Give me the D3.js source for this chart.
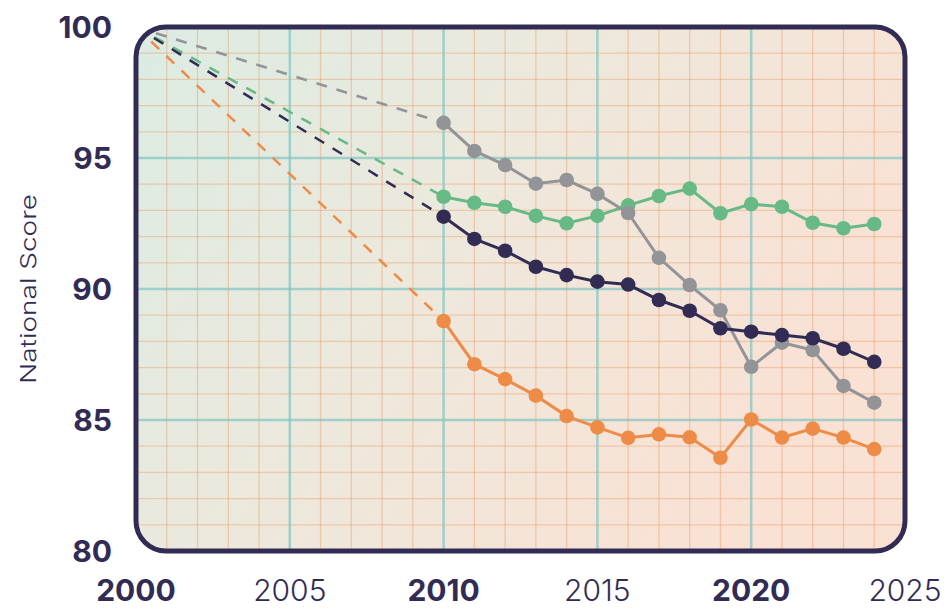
<!DOCTYPE html>
<html>
<head>
<meta charset="utf-8">
<script src="https://cdn.jsdelivr.net/npm/d3@7"></script>
<style>
  body { margin: 0; background: #fff; }
  svg { display: block; }
</style>
</head>
<body>
<div id="chart"></div>
<script>
var years = [2010, 2011, 2012, 2013, 2014, 2015, 2016, 2017, 2018, 2019, 2020, 2021, 2022, 2023, 2024];
var greenVals = [93.52, 93.29, 93.14, 92.79, 92.51, 92.79, 93.19, 93.55, 93.83, 92.89, 93.24, 93.14, 92.53, 92.32, 92.48];
var grayVals = [96.34, 95.27, 94.73, 94.02, 94.16, 93.63, 92.9, 91.19, 90.15, 89.19, 87.03, 87.95, 87.67, 86.3, 85.66];
var navyVals = [92.76, 91.91, 91.46, 90.85, 90.53, 90.28, 90.17, 89.58, 89.17, 88.5, 88.37, 88.24, 88.12, 87.72, 87.22];
var orangeVals = [88.78, 87.13, 86.56, 85.93, 85.15, 84.72, 84.32, 84.45, 84.34, 83.56, 85.02, 84.33, 84.67, 84.33, 83.89];
var startPoint = { year: 2000, value: 100 };
var xTicks = [2000, 2005, 2010, 2015, 2020, 2025];
var xBoldTicks = [2000, 2010, 2020];
var yTicks = [80, 85, 90, 95, 100];

var series = [
    { key: "green", color: "#67b985", values: greenVals },
    { key: "gray", color: "#939497", values: grayVals },
    { key: "navy", color: "#322c55", values: navyVals },
    { key: "orange", color: "#ee8c47", values: orangeVals }
];

var width = 951,
    height = 608,
    margin = { left: 136, right: 46, top: 27, bottom: 57 };

var innerW = width - margin.left - margin.right,
    innerH = height - margin.top - margin.bottom;

function translate(x, y){
    return "translate(" + x + "," + y + ")";
}

var xScale = d3.scaleLinear().domain([2000, 2025]).range([0, innerW]);
var yScale = d3.scaleLinear().domain([80, 100]).range([innerH, 0]);

var svg = d3.select("#chart")
    .append("svg")
    .attr("width", width)
    .attr("height", height);

var defs = svg.append("defs");

var grad = defs.append("linearGradient")
    .attr("id", "bg")
    .attr("x1", "0").attr("y1", "0")
    .attr("x2", "1").attr("y2", "0.45");
grad.append("stop").attr("offset", "0").attr("stop-color", "#dbece3");
grad.append("stop").attr("offset", "0.5").attr("stop-color", "#eee8dc");
grad.append("stop").attr("offset", "1").attr("stop-color", "#f9e1d4");

defs.append("clipPath")
    .attr("id", "frame-clip")
    .append("rect")
    .attr("width", innerW)
    .attr("height", innerH)
    .attr("rx", 30).attr("ry", 30);

var g = svg.append("g").attr("transform", translate(margin.left, margin.top));

g.append("rect")
    .attr("width", innerW)
    .attr("height", innerH)
    .attr("rx", 30).attr("ry", 30)
    .attr("fill", "url(#bg)");

var grid = g.append("g").attr("clip-path", "url(#frame-clip)");

// minor grid: every year / every point
var minorX = d3.range(2001, 2025).filter(function(d){ return d % 5 !== 0; });
var minorY = d3.range(81, 100).filter(function(d){ return d % 5 !== 0; });

grid.selectAll(".minor-x")
    .data(minorX)
    .enter().append("line")
    .attr("class", "minor-x")
    .attr("x1", function(d){ return xScale(d); })
    .attr("x2", function(d){ return xScale(d); })
    .attr("y1", 0).attr("y2", innerH)
    .attr("stroke", "#e8925a").attr("stroke-opacity", 0.38).attr("stroke-width", 1.3);

grid.selectAll(".minor-y")
    .data(minorY)
    .enter().append("line")
    .attr("class", "minor-y")
    .attr("y1", function(d){ return yScale(d); })
    .attr("y2", function(d){ return yScale(d); })
    .attr("x1", 0).attr("x2", innerW)
    .attr("stroke", "#e8925a").attr("stroke-opacity", 0.38).attr("stroke-width", 1.3);

// major grid every 5
grid.selectAll(".major-x")
    .data([2005, 2010, 2015, 2020])
    .enter().append("line")
    .attr("class", "major-x")
    .attr("x1", function(d){ return xScale(d); })
    .attr("x2", function(d){ return xScale(d); })
    .attr("y1", 0).attr("y2", innerH)
    .attr("stroke", "#7fc4c1").attr("stroke-opacity", 0.7).attr("stroke-width", 2.5);

grid.selectAll(".major-y")
    .data([85, 90, 95])
    .enter().append("line")
    .attr("class", "major-y")
    .attr("y1", function(d){ return yScale(d); })
    .attr("y2", function(d){ return yScale(d); })
    .attr("x1", 0).attr("x2", innerW)
    .attr("stroke", "#7fc4c1").attr("stroke-opacity", 0.7).attr("stroke-width", 2.5);

// dashed lead-in from 2000
var dashG = g.append("g").attr("clip-path", "url(#frame-clip)");
dashG.selectAll(".lead")
    .data(series)
    .enter().append("line")
    .attr("class", "lead")
    .attr("x1", xScale(startPoint.year))
    .attr("y1", yScale(startPoint.value))
    .attr("x2", xScale(years[0]))
    .attr("y2", function(d){ return yScale(d.values[0]); })
    .attr("stroke", function(d){ return d.color; })
    .attr("stroke-width", 2.5)
    .attr("stroke-dasharray", "11,10");

var line = d3.line()
    .x(function(d, i){ return xScale(years[i]); })
    .y(function(d){ return yScale(d); });

var sg = g.selectAll(".series")
    .data(series)
    .enter().append("g")
    .attr("class", "series");

sg.append("path")
    .attr("d", function(d){ return line(d.values); })
    .attr("fill", "none")
    .attr("stroke", function(d){ return d.color; })
    .attr("stroke-width", 3);

sg.selectAll("circle")
    .data(function(d){ return d.values.map(function(v, i){ return { v: v, i: i, color: d.color }; }); })
    .enter().append("circle")
    .attr("cx", function(d){ return xScale(years[d.i]); })
    .attr("cy", function(d){ return yScale(d.v); })
    .attr("r", 7.3)
    .attr("fill", function(d){ return d.color; });

// frame
g.append("rect")
    .attr("width", innerW)
    .attr("height", innerH)
    .attr("rx", 30).attr("ry", 30)
    .attr("fill", "none")
    .attr("stroke", "#322c55")
    .attr("stroke-width", 5);

var font = "Inter, 'Open Sans', sans-serif";

// y tick labels
g.selectAll(".ylab")
    .data(yTicks)
    .enter().append("text")
    .attr("class", "ylab")
    .attr("x", -24)
    .attr("y", function(d){ return yScale(d); })
    .attr("dy", "0.36em")
    .attr("text-anchor", "end")
    .attr("font-family", font)
    .attr("font-size", 30)
    .attr("font-weight", 700)
    .attr("fill", "#322c55")
    .text(function(d){ return d; });

// x tick labels
g.selectAll(".xlab")
    .data(xTicks)
    .enter().append("text")
    .attr("class", "xlab")
    .attr("x", function(d){ return xScale(d); })
    .attr("y", innerH + 50)
    .attr("text-anchor", "middle")
    .attr("font-family", font)
    .attr("font-size", 30)
    .attr("font-weight", function(d){ return xBoldTicks.indexOf(d) >= 0 ? 700 : 300; })
    .attr("fill", "#322c55")
    .text(function(d){ return d; });

// y axis title
svg.append("text")
    .attr("transform", translate(36, margin.top + yScale(90)) + " rotate(-90)")
    .attr("text-anchor", "middle")
    .attr("font-family", font)
    .attr("font-size", 22)
    .attr("font-weight", 300)
    .attr("textLength", 190)
    .attr("lengthAdjust", "spacingAndGlyphs")
    .attr("fill", "#322c55")
    .text("National Score");
</script>
</body>
</html>
